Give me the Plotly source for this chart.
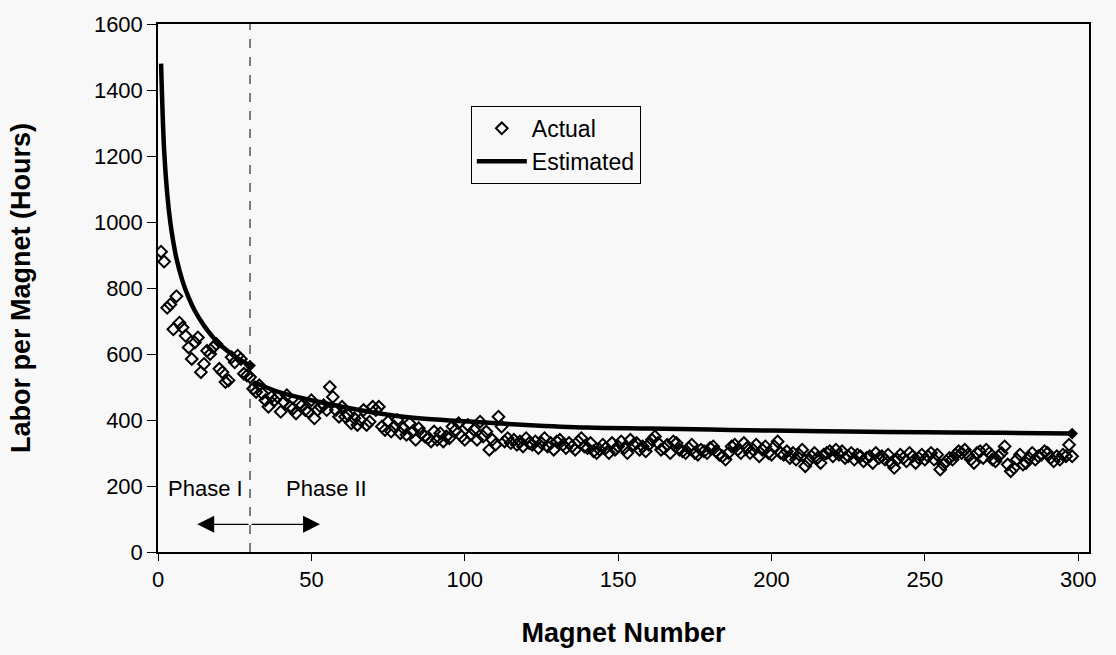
import plotly.graph_objects as go

# ---- data ----
actual_phase1 = [910, 880, 740, 750, 675, 775, 695, 680, 655, 620,
                 585, 635, 650, 545, 570, 610, 600, 620, 630, 555,
                 545, 515, 520, 590, 575, 595, 585, 540, 535, 530]
actual_phase2 = [495, 485, 505, 480, 460, 440, 470, 460, 470, 425,
                 455, 475, 440, 435, 420, 450, 445, 430, 425, 460,
                 405, 430, 440, 445, 430, 500, 470, 430, 410, 440,
                 410, 415, 390, 405, 385, 400, 430, 385, 395, 440,
                 430, 440, 380, 370, 395, 365, 380, 400, 360, 375,
                 355, 390, 365, 340, 375, 360, 350, 345, 335, 365,
                 340, 360, 335, 350, 345, 380, 370, 390, 350, 340,
                 385, 355, 370, 340, 395, 350, 365, 310, 340, 325,
                 410, 380, 335, 345, 330, 340, 325, 335, 320, 345,
                 330, 325, 335, 315, 330, 345, 320, 330, 310, 335,
                 340, 325, 315, 330, 320, 310, 335, 345, 320, 315,
                 330, 305, 300, 310, 325, 315, 300, 330, 310, 320,
                 335, 315, 300, 340, 325, 330, 310, 320, 305, 325,
                 340, 350, 330, 310, 315, 325, 300, 335, 330, 310,
                 305, 300, 315, 325, 300, 295, 310, 305, 300, 315,
                 320, 305, 295, 290, 280, 300, 320, 325, 310, 300,
                 330, 315, 300, 310, 325, 290, 310, 320, 300, 295,
                 320, 335, 300, 295, 305, 285, 300, 280, 295, 310,
                 260, 275, 290, 300, 285, 270, 295, 300, 305, 290,
                 310, 295, 305, 285, 290, 300, 280, 295, 290, 275,
                 285, 290, 270, 300, 285, 290, 280, 295, 270, 255,
                 280, 295, 285, 275, 300, 290, 270, 285, 295, 280,
                 290, 300, 280, 295, 250, 265, 275, 285, 280, 295,
                 305, 300, 310, 295, 280, 270, 300, 305, 285, 310,
                 300, 280, 275, 290, 300, 320, 265, 245, 255, 280,
                 295, 265, 270, 285, 300, 280, 290, 295, 305, 300,
                 285, 275, 290, 280, 295, 290, 325, 290]
actual = actual_phase1 + actual_phase2
magnet_no = list(range(1, len(actual) + 1))

est1_x = [1, 2, 3, 4, 5, 6, 8, 10, 12, 15, 18, 21, 24, 27, 30]
est1_y = [1480, 1217, 1086, 1000, 939, 890, 821, 771, 731, 686, 650, 622, 600, 581, 565]
est2_x = [31, 35, 40, 50, 60, 70, 85, 100, 120, 140, 160, 180, 200, 225, 250, 275, 298]
est2_y = [515, 500, 483, 460, 440, 423, 405, 396, 385, 377, 374, 371, 368, 365, 363, 361, 359]

x_ticks = [0, 50, 100, 150, 200, 250, 300]
y_ticks = [0, 200, 400, 600, 800, 1000, 1200, 1400, 1600]
phase_boundary = 30

FONT = "Liberation Sans, Arial, sans-serif"
BG = "#f8f8f8"

fig = go.Figure()
fig.add_trace(go.Scatter(
    x=magnet_no, y=actual, mode="markers", name="Actual",
    marker=dict(symbol="diamond-open", size=9, color="black", line=dict(width=2, color="black")),
))
fig.add_trace(go.Scatter(
    x=est1_x, y=est1_y, mode="lines", name="Estimated", legendgroup="est",
    line=dict(color="black", width=4.5, shape="spline"),
))
fig.add_trace(go.Scatter(
    x=est2_x, y=est2_y, mode="lines", name="Estimated", legendgroup="est", showlegend=False,
    line=dict(color="black", width=4.5, shape="spline"),
))
# end markers of the estimated curve
fig.add_trace(go.Scatter(
    x=[est1_x[-1], est2_x[-1]], y=[est1_y[-1], est2_y[-1]], mode="markers", showlegend=False,
    marker=dict(symbol="diamond", size=9, color="black"),
))

# phase boundary
fig.add_shape(type="line", x0=phase_boundary, x1=phase_boundary, y0=0, y1=1600,
              xref="x", yref="y", line=dict(color="black", width=1, dash="dash"))

# phase arrows
for tip in (12.8, 52.8):
    fig.add_annotation(x=tip, y=84, ax=phase_boundary, ay=84, xref="x", yref="y", axref="x", ayref="y",
                       text="", showarrow=True, arrowhead=2, arrowsize=2.6, arrowwidth=1.3,
                       arrowcolor="black")
fig.add_annotation(x=15.6, y=193, xref="x", yref="y", text="Phase I", showarrow=False,
                   font=dict(family=FONT, size=22, color="black"))
fig.add_annotation(x=54.8, y=193, xref="x", yref="y", text="Phase II", showarrow=False,
                   font=dict(family=FONT, size=22, color="black"))

fig.update_layout(
    width=1116, height=655,
    margin=dict(l=158, r=27, t=22, b=103),
    paper_bgcolor=BG, plot_bgcolor=BG,
    font=dict(family=FONT, size=22, color="black"),
    showlegend=True,
    legend=dict(x=0.336, y=0.845, xanchor="left", yanchor="top",
                bgcolor=BG, bordercolor="black", borderwidth=1, itemwidth=50,
                font=dict(family=FONT, size=23, color="black"), tracegroupgap=0),
    xaxis=dict(range=[0, 303.5], tickvals=x_ticks, ticks="outside", ticklen=7, tickcolor="black",
               showline=True, linecolor="black", linewidth=1.8, mirror=True, showgrid=False, zeroline=False,
               tickfont=dict(family=FONT, size=22),
               title=dict(text="<b>Magnet Number</b>", font=dict(family=FONT, size=27), standoff=32)),
    yaxis=dict(range=[0, 1600], tickvals=y_ticks, ticks="outside", ticklen=9, tickcolor="black",
               showline=True, linecolor="black", linewidth=1.5, mirror=True, showgrid=False, zeroline=False,
               tickfont=dict(family=FONT, size=22),
               title=dict(text="<b>Labor per Magnet (Hours)</b>", font=dict(family=FONT, size=27), standoff=55)),
)

fig.write_html("out.html")
